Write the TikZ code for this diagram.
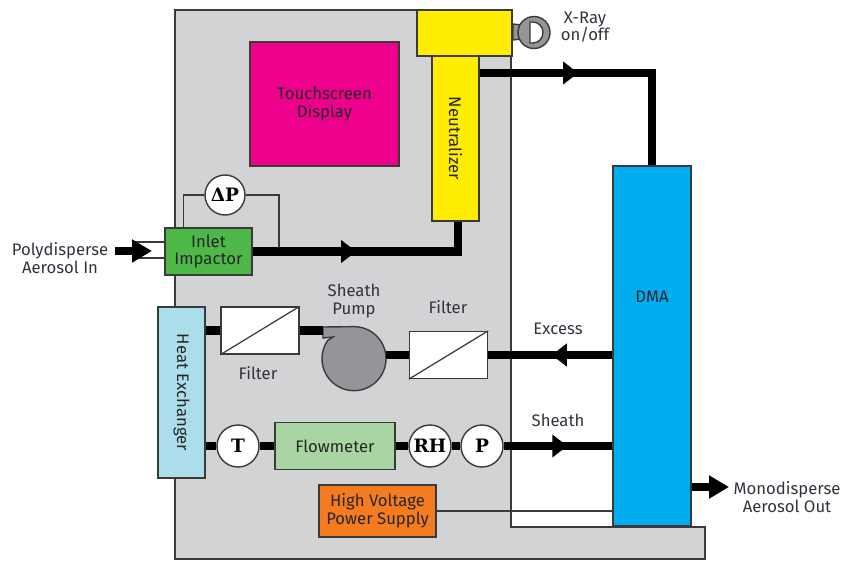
\documentclass[tikz,border=0pt]{standalone}
\usepackage{xcolor}
\usepackage{fontspec}
\setmainfont{Fira Sans}
\newfontfamily\gaugefont{DejaVu Serif}
\usepackage{tikz}
\usetikzlibrary{arrows.meta, decorations.markings}
\definecolor{casing}{HTML}{D1D3D4}
\definecolor{edgegray}{HTML}{3A3A3A}
\definecolor{pumpgray}{HTML}{939598}
\definecolor{labelink}{HTML}{333340}
\tikzstyle{box} = [draw=edgegray, line width=0.8pt, text=black!85, align=center, inner sep=0pt, font=\fontsize{9.5}{10}\selectfont]
\tikzstyle{filterbox} = [box, fill=white, minimum width=1.56cm, minimum height=0.94cm]
\tikzstyle{gauge} = [circle, draw=edgegray, line width=0.8pt, fill=white, minimum size=0.84cm, inner sep=0pt, font=\gaugefont\bfseries\fontsize{10.5}{11}\selectfont]
\tikzstyle{caption} = [text=labelink, align=center, inner sep=0pt, font=\fontsize{9.5}{10}\selectfont]
\tikzstyle{pipe} = [line width=4.8pt, black]
\tikzstyle{wire} = [line width=0.7pt, edgegray]
\tikzstyle{flowmark} = [postaction=decorate, decoration={markings, mark=at position #1 with {\arrow{Triangle[length=0.3cm,width=0.44cm]}}}]
\tikzstyle{outarrow} = [pipe, -{Triangle[length=0.4cm,width=0.44cm]}]

\begin{document}
\begin{tikzpicture}
    \useasboundingbox (0,0) rectangle (16.84,11.22);

    \draw[wire, fill=casing] (3.5,11.02) -- (10.22,11.02) -- (10.22,0.68) -- (14.1,0.68) -- (14.1,0.04) -- (3.5,0.04) -- cycle;

    \node[box, fill=yellow!95!orange, minimum width=1.9cm, minimum height=0.92cm] (xray) at (9.29,10.56) {};
    \node[box, fill=yellow!95!orange, minimum width=3.3cm, minimum height=0.94cm, rotate=-90] (neutral) at (9.11,8.45) {Neutralizer};
    \node[box, fill={rgb,255:red,236;green,0;blue,140}, minimum width=2.98cm, minimum height=2.48cm] (touch) at (6.49,9.14) {Touchscreen\\Display};
    \node[box, fill={rgb,255:red,0;green,174;blue,239}, minimum width=1.56cm, minimum height=7.2cm] (dma) at (13.04,4.3) {};
    \node[box, fill={rgb,255:red,77;green,184;blue,72}, minimum width=1.74cm, minimum height=0.94cm] (impactor) at (4.17,6.19) {Inlet\\Impactor};
    \node[gauge, minimum size=0.8cm] (dp) at (4.5,7.32) {ΔP};
    \node[box, fill={rgb,255:red,171;green,221;blue,234}, minimum width=3.42cm, minimum height=0.94cm, rotate=-90] (exchanger) at (3.63,3.37) {Heat Exchanger};
    \node[filterbox] (filterone) at (5.2,4.61) {};
    \node[filterbox] (filtertwo) at (8.97,4.12) {};
    \node[circle, minimum size=1.28cm, inner sep=0pt] (pump) at (7.08,4.04) {};
    \node[gauge] (temp) at (4.76,2.3) {T};
    \node[box, fill={rgb,255:red,168;green,213;blue,162}, minimum width=2.4cm, minimum height=0.94cm] (flow) at (6.7,2.3) {Flowmeter};
    \node[gauge] (humid) at (8.6,2.3) {RH};
    \node[gauge] (press) at (9.64,2.3) {P};
    \node[box, fill={rgb,255:red,244;green,123;blue,32}, minimum width=2.34cm, minimum height=1.04cm] (supply) at (7.55,1.0) {High Voltage\\Power Supply};

    \node[caption, text=black!85] (dmalabel) at (13.04,5.28) {DMA};
    \node[caption] (inlabel) at (1.2,6.06) {Polydisperse\\Aerosol In};
    \node[caption] (filteronelabel) at (5.16,3.76) {Filter};
    \node[caption] (pumplabel) at (7.08,5.2) {Sheath\\Pump};
    \node[caption] (filtertwolabel) at (8.96,5.08) {Filter};
    \node[caption] (excesslabel) at (11.16,4.64) {Excess};
    \node[caption] (sheathlabel) at (11.16,2.82) {Sheath};
    \node[caption] (xraylabel) at (11.7,10.68) {X-Ray\\on/off};
    \node[caption] (outlabel) at (15.74,1.28) {Monodisperse\\Aerosol Out};

    \draw[wire, line width=0.8pt, fill=pumpgray] (10.26,10.74) -- (10.42,10.72) -- (10.42,10.44) -- (10.26,10.42) -- cycle;
    \node[circle, draw=edgegray, line width=0.8pt, fill=pumpgray, minimum size=0.64cm, inner sep=0pt] (xkey) at (10.68,10.57) {};
    \draw[wire, line width=0.8pt, fill=white] (10.6,10.78) -- (10.66,10.78) arc[start angle=90, end angle=-90, x radius=0.2, y radius=0.21] -- (10.6,10.36) -- cycle;

    \draw[wire, line width=0.8pt, fill=pumpgray] (pump.north) arc[start angle=90, end angle=-214, radius=0.64] -- (6.66,4.48) -- (6.46,4.46) -- (6.46,4.68) -- cycle;

    \draw[wire] (filterone.south west) -- (filterone.north east);
    \draw[wire] (filtertwo.south west) -- (filtertwo.north east);

    \coordinate (neutralout) at (9.58,9.76);
    \coordinate (dpjoin) at (5.58,6.19);
    \coordinate (pumpin) at (6.46,4.61);
    \coordinate (inflow) at (2.3,6.2);
    \coordinate (intip) at (3.04,6.2);
    \coordinate (instart) at (2.66,6.38);
    \coordinate (instop) at (2.66,6.06);
    \coordinate (monotip) at (14.58,1.48);

    \draw[wire] (instart) -- (impactor.west |- instart);
    \draw[wire] (instop) -- (impactor.west |- instop);
    \draw[outarrow] (inflow) -- (intip);
    \draw[wire] (dp.west) -| ([xshift=0.38cm]impactor.north west);
    \draw[wire] (dp.east) -| (dpjoin);
    \draw[pipe, flowmark=0.44] (impactor.east) -| ([xshift=0.05cm]neutral.east);
    \draw[pipe, flowmark=0.372] (neutral.north |- neutralout) -| (dma.north);
    \draw[pipe] (exchanger.north |- filterone.west) -- (filterone.west);
    \draw[pipe] (filterone.east) -- (pumpin);
    \draw[pipe] (pump.east |- filtertwo.west) -- (filtertwo.west);
    \draw[pipe, flowmark=0.488] (dma.west |- filtertwo.east) -- (filtertwo.east);
    \draw[pipe] (exchanger.north |- temp.west) -- (temp.west);
    \draw[pipe] (temp.east) -- (flow.west);
    \draw[pipe] (flow.east) -- (humid.west);
    \draw[pipe] (humid.east) -- (press.west);
    \draw[pipe, flowmark=0.586] (press.east) -- (dma.west |- press.east);
    \draw[wire] (supply.east) -- (dma.west |- supply.east);
    \draw[outarrow] (dma.east |- monotip) -- (monotip);
\end{tikzpicture}
\end{document}
